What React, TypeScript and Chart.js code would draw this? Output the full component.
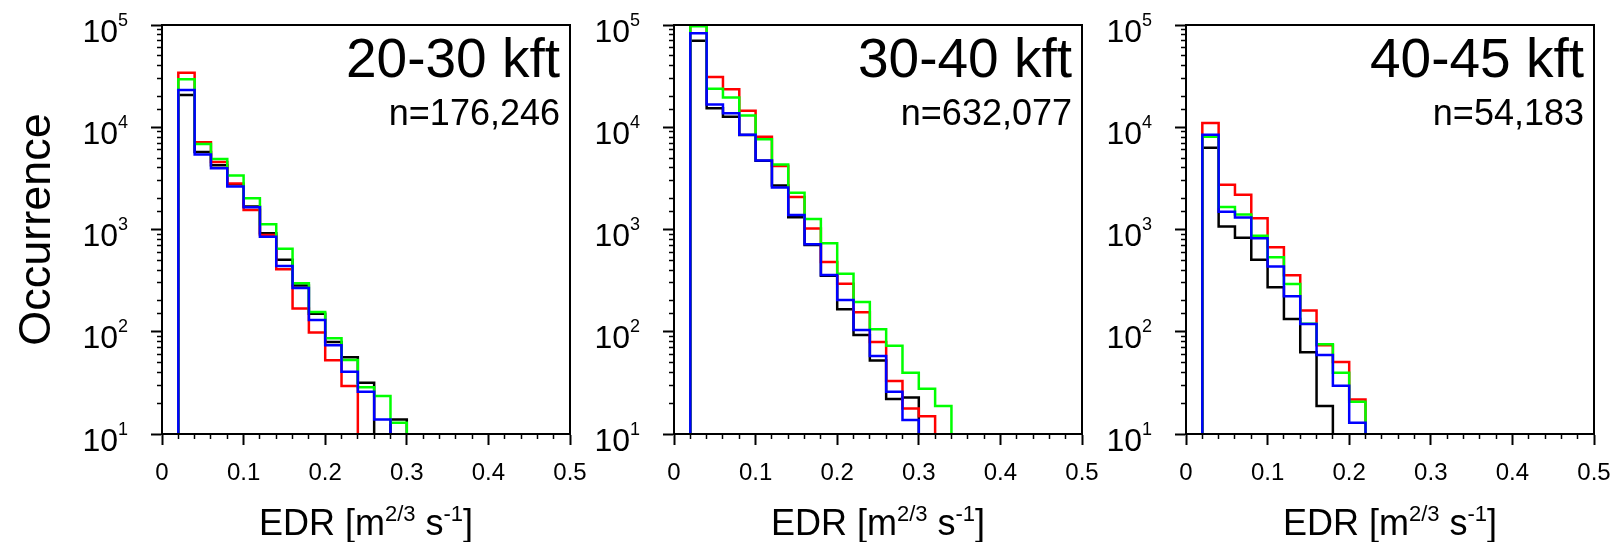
import React, { useEffect, useRef } from 'react';
import { Chart, registerables } from 'chart.js';

Chart.register(...registerables);

// ---------------- data ----------------
const BIN_START = 0.02;
const BIN_WIDTH = 0.02;
const FLOOR = 1; // value used for empty bins (below the axis, clipped)

const X_MIN = 0;
const X_MAX = 0.5;
const Y_MIN = 10;
const Y_MAX = 100000;
const X_TICK_LABELS = [0, 0.1, 0.2, 0.3, 0.4, 0.5];
const Y_DECADES = [1, 2, 3, 4, 5];

const PANEL_TITLES = ['20-30 kft', '30-40 kft', '40-45 kft'];
const PANEL_COUNTS = ['n=176,246', 'n=632,077', 'n=54,183'];
const Y_TITLE = 'Occurrence';

// counts per 0.02-wide bin, first bin = 0.02–0.04
const p1Black = [20700, 5720, 4240, 2770, 1680, 918, 507, 283, 150, 79.4, 56.2, 31.8, 0, 13.9];
const p1Red = [34200, 7120, 4570, 2810, 1550, 884, 408, 169, 98.6, 52.5, 29.4];
const p1Green = [29400, 6850, 4890, 3370, 2020, 1125, 650, 298, 156, 86.3, 52.9, 28.6, 23.5, 12.9];
const p1Blue = [23100, 5400, 3970, 2640, 1650, 851, 440, 268, 130, 73.6, 40.7, 25.9, 13.9];

const p2Black = [70300, 15300, 12700, 8400, 4700, 2700, 1320, 705, 352, 166, 92.9, 52.2, 22, 22.8];
const p2Red = [120000, 31000, 23500, 14500, 8090, 4180, 2080, 1020, 481, 295, 155, 79.4, 33, 17.8, 14.9];
const p2Green = [97000, 23800, 19500, 13000, 7620, 4310, 2290, 1270, 733, 370, 195, 106, 73.1, 39.8, 27.7, 18.8];
const p2Blue = [82900, 16700, 13700, 8450, 4740, 2570, 1390, 716, 359, 204, 104, 58, 25.9, 13.7];

const p3Black = [6310, 1070, 832, 507, 272, 133, 63, 18.8];
const p3Red = [11000, 2740, 2190, 1290, 670, 357, 161, 73.6, 50.6, 21.8];
const p3Green = [8090, 1660, 1400, 871, 535, 293, 120, 75.3, 39.8, 20.7];
const p3Blue = [8450, 1490, 1310, 820, 434, 222, 119, 59.3, 29.7, 12.9];

const SERIES_COLORS = { blue: '#0000ff', green: '#00ff00', red: '#ff0000', black: '#000000' };

// drawing order: first dataset is drawn on top
const PANEL_SERIES = [
  [['blue', p1Blue], ['green', p1Green], ['red', p1Red], ['black', p1Black]],
  [['blue', p2Blue], ['green', p2Green], ['red', p2Red], ['black', p2Black]],
  [['blue', p3Blue], ['green', p3Green], ['red', p3Red], ['black', p3Black]],
] as [keyof typeof SERIES_COLORS, number[]][][];

// ---------------- layout ----------------
const CANVAS_H = 542;
const PANEL_LAYOUT = [
  { canvasLeft: 0, canvasWidth: 590, yAxisWidth: 162, rightPad: 20 },
  { canvasLeft: 590, canvasWidth: 512, yAxisWidth: 84, rightPad: 20 },
  { canvasLeft: 1102, canvasWidth: 511, yAxisWidth: 84, rightPad: 19 },
];
const PLOT_TOP = 25;
const X_AXIS_HEIGHT = 108;
const FONT = '"Liberation Sans", Arial, Helvetica, sans-serif';

function stepPoints(values: number[]) {
  const pts = [{ x: BIN_START, y: FLOOR }];
  values.forEach((v, i) => pts.push({ x: BIN_START + i * BIN_WIDTH, y: v > 0 ? v : FLOOR }));
  pts.push({ x: BIN_START + values.length * BIN_WIDTH, y: FLOOR });
  return pts;
}

type Part = { t: string; sup?: boolean };

function drawParts(ctx: CanvasRenderingContext2D, parts: Part[], x: number, baseline: number,
  align: 'left' | 'center' | 'right', big: number, small: number, rise: number) {
  ctx.textAlign = 'left';
  ctx.textBaseline = 'alphabetic';
  const widths = parts.map((p) => {
    ctx.font = `${p.sup ? small : big}px ${FONT}`;
    return ctx.measureText(p.t).width;
  });
  const total = widths.reduce((a, b) => a + b, 0);
  let cx = align === 'left' ? x : align === 'center' ? x - total / 2 : x - total;
  parts.forEach((p, i) => {
    ctx.font = `${p.sup ? small : big}px ${FONT}`;
    ctx.fillText(p.t, cx, p.sup ? baseline - rise : baseline);
    cx += widths[i];
  });
}

function makePanelPlugin(index: number) {
  return {
    id: 'panelDecor' + index,
    afterDatasetsDraw(chart: any) {
      const { ctx, chartArea } = chart;
      ctx.save();
      ctx.strokeStyle = '#000';
      ctx.lineWidth = 2;
      ctx.strokeRect(chartArea.left, chartArea.top, chartArea.right - chartArea.left, chartArea.bottom - chartArea.top);
      ctx.restore();
    },
    afterDraw(chart: any) {
      const { ctx, chartArea } = chart;
      const ys = chart.scales.y;
      ctx.save();
      ctx.fillStyle = '#000';
      // y tick labels 10^n
      Y_DECADES.forEach((e) => {
        const py = ys.getPixelForValue(Math.pow(10, e));
        drawParts(ctx, [{ t: '10' }, { t: String(e), sup: true }], chartArea.left - 34, py + 16.5, 'right', 32, 18, 16);
      });
      // x axis title
      drawParts(ctx, [{ t: 'EDR [m' }, { t: '2/3', sup: true }, { t: ' s' }, { t: '-1', sup: true }, { t: ']' }],
        (chartArea.left + chartArea.right) / 2, 535, 'center', 36, 22, 14);
      // panel title and count
      ctx.textAlign = 'right';
      ctx.textBaseline = 'alphabetic';
      ctx.font = `55px ${FONT}`;
      ctx.fillText(PANEL_TITLES[index], chartArea.right - 10, 77);
      ctx.font = `36px ${FONT}`;
      ctx.fillText(PANEL_COUNTS[index], chartArea.right - 10, 125);
      // y axis title on first panel
      if (index === 0) {
        ctx.translate(49.5, (chartArea.top + chartArea.bottom) / 2);
        ctx.rotate(-Math.PI / 2);
        ctx.textAlign = 'center';
        ctx.font = `45px ${FONT}`;
        ctx.fillText(Y_TITLE, 0, 0);
      }
      ctx.restore();
    },
  };
}

const isDecade = (v: number) => Math.abs(Math.log10(v) - Math.round(Math.log10(v))) < 1e-9;
const isTenth = (v: number) => Math.abs(v * 10 - Math.round(v * 10)) < 1e-6;

function Panel({ index }: { index: number }) {
  const ref = useRef<HTMLCanvasElement>(null);
  const lay = PANEL_LAYOUT[index];
  useEffect(() => {
    const canvas = ref.current!;
    const chart = new Chart(canvas, {
      type: 'line',
      data: {
        datasets: PANEL_SERIES[index].map(([name, vals]) => ({
          label: name,
          data: stepPoints(vals),
          borderColor: SERIES_COLORS[name],
          backgroundColor: SERIES_COLORS[name],
          borderWidth: 2.5,
          pointRadius: 0,
          stepped: true,
          fill: false,
          tension: 0,
          borderJoinStyle: 'miter',
          xAxisID: 'x',
          yAxisID: 'y',
        })),
      },
      options: {
        animation: false,
        responsive: false,
        maintainAspectRatio: false,
        events: [],
        layout: { padding: { left: 0, top: PLOT_TOP, right: lay.rightPad, bottom: 0 } },
        plugins: { legend: { display: false }, tooltip: { enabled: false } },
        scales: {
          x: {
            type: 'linear', position: 'bottom', weight: 1, min: X_MIN, max: X_MAX,
            afterBuildTicks: (s: any) => { s.ticks = X_TICK_LABELS.map((v) => ({ value: v })); },
            afterFit: (s: any) => { s.height = X_AXIS_HEIGHT; },
            ticks: {
              display: true, autoSkip: false, maxRotation: 0, padding: 2, color: '#000',
              font: { family: FONT, size: 24, lineHeight: 2.2 },
              callback: (v: any) => String(Math.round(Number(v) * 10) / 10),
            },
            grid: { drawOnChartArea: false, drawTicks: true, tickLength: 11, tickWidth: 2, tickColor: '#000' },
            border: { display: true, width: 2, color: '#000' },
          },
          xMinor: {
            type: 'linear', position: 'bottom', weight: 0, min: X_MIN, max: X_MAX,
            afterBuildTicks: (s: any) => { s.ticks = s.ticks.filter((t: any) => !isTenth(t.value)); },
            afterFit: (s: any) => { s.height = 0; },
            ticks: { display: false, stepSize: BIN_WIDTH },
            grid: { drawOnChartArea: false, drawTicks: true, tickLength: 5, tickWidth: 1.5, tickColor: '#000' },
            border: { display: false },
          },
          y: {
            type: 'logarithmic', position: 'left', weight: 1, min: Y_MIN, max: Y_MAX,
            afterBuildTicks: (s: any) => { s.ticks = s.ticks.filter((t: any) => isDecade(t.value)); },
            afterFit: (s: any) => { s.width = lay.yAxisWidth; },
            ticks: { display: false },
            grid: { drawOnChartArea: false, drawTicks: true, tickLength: 11, tickWidth: 2, tickColor: '#000' },
            border: { display: true, width: 2, color: '#000' },
          },
          yMinor: {
            type: 'logarithmic', position: 'left', weight: 0, min: Y_MIN, max: Y_MAX,
            afterBuildTicks: (s: any) => { s.ticks = s.ticks.filter((t: any) => !isDecade(t.value)); },
            afterFit: (s: any) => { s.width = 0; },
            ticks: { display: false },
            grid: { drawOnChartArea: false, drawTicks: true, tickLength: 5, tickWidth: 1.5, tickColor: '#000' },
            border: { display: false },
          },
        },
      } as any,
      plugins: [makePanelPlugin(index)],
    });
    return () => chart.destroy();
  }, [index]);
  return (
    <canvas
      ref={ref}
      width={lay.canvasWidth}
      height={CANVAS_H}
      style={{ position: 'absolute', left: lay.canvasLeft, top: 0, width: lay.canvasWidth, height: CANVAS_H }}
    />
  );
}

export default function App() {
  return (
    <div style={{ position: 'absolute', left: 0, top: 0, width: 1613, height: 542, background: '#fff', overflow: 'hidden' }}>
      {[0, 1, 2].map((i) => (
        <Panel key={i} index={i} />
      ))}
    </div>
  );
}
